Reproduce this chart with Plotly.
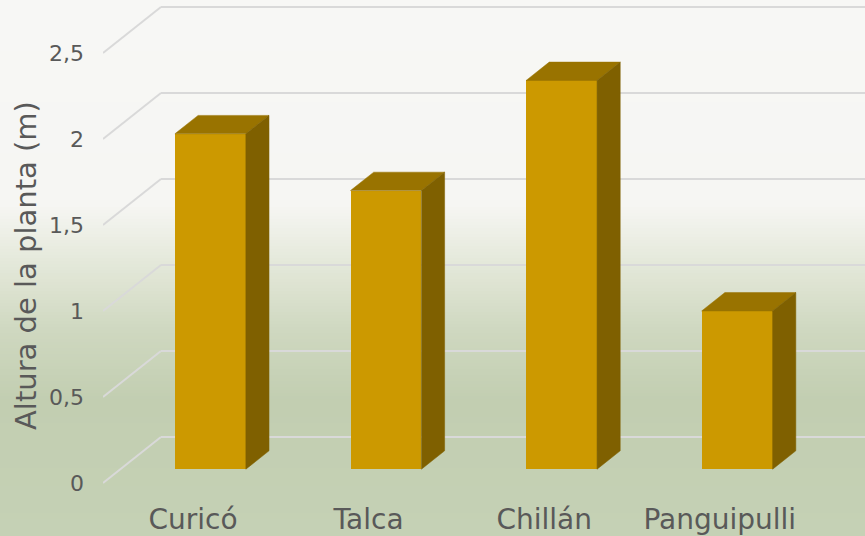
import plotly.graph_objects as go

# ---- data ----
categories = ["Curicó", "Talca", "Chillán", "Panguipulli"]
heights = [1.95, 1.62, 2.26, 0.92]
y_ticks = [0, 0.5, 1, 1.5, 2, 2.5]
y_tick_labels = ["0", "0,5", "1", "1,5", "2", "2,5"]
y_title = "Altura de la planta (m)"

# ---- styling / geometry ----
W, H = 865, 536
ML, MR, MT, MB = 103, 0, 0, 36
FONT = "DejaVu Sans"
TXT = "#595959"
FRONT = "#CC9900"
TOP = "#997300"
SIDE = "#7F6000"
GRID = "#D9D9D9"

xr = [-0.5125, 3.827]
yr = [-0.0988, 2.8081]
DDX = 0.330   # full depth shift in x (category units)
DDY = 0.2674  # full depth shift in y (value units)
D0, D1 = 0.3, 0.7   # bar depth span
HW = 0.202          # half bar width

fig = go.Figure()

# front faces as bars
xs = list(range(len(categories)))
fig.add_trace(go.Bar(
    x=[i + D0 * DDX for i in xs], y=heights, base=D0 * DDY,
    width=2 * HW, marker=dict(color=FRONT, line=dict(width=0)),
    showlegend=False, hoverinfo="skip"))

# top and side faces
for i, v in zip(xs, heights):
    xl = i - HW + D0 * DDX
    xrr = i + HW + D0 * DDX
    yb = D0 * DDY
    yt = v + D0 * DDY
    dx = (D1 - D0) * DDX
    dy = (D1 - D0) * DDY
    fig.add_trace(go.Scatter(
        x=[xl, xrr, xrr + dx, xl + dx, xl],
        y=[yt, yt, yt + dy, yt + dy, yt],
        fill="toself", fillcolor=TOP, mode="lines",
        line=dict(color=TOP, width=0.5),
        hoverinfo="skip", showlegend=False))
    fig.add_trace(go.Scatter(
        x=[xrr, xrr + dx, xrr + dx, xrr, xrr],
        y=[yb, yb + dy, yt + dy, yt, yb],
        fill="toself", fillcolor=SIDE, mode="lines",
        line=dict(color=SIDE, width=0.5),
        hoverinfo="skip", showlegend=False))

# background gradient stripes (pixel rows -> paper coords)
stops = [(0, (247, 247, 245)), (205, (246, 246, 243)), (260, (229, 233, 219)),
         (330, (207, 216, 192)), (400, (194, 206, 177)), (536, (197, 209, 181))]

def col_at(py):
    for (a, ca), (b, cb) in zip(stops[:-1], stops[1:]):
        if a <= py <= b:
            t = (py - a) / (b - a) if b > a else 0
            return tuple(round(ca[k] + (cb[k] - ca[k]) * t) for k in range(3))
    return stops[-1][1]

PW = W - ML - MR
PH = H - MT - MB
shapes = []
step = 3
for py in range(0, H, step):
    c = col_at(py + step / 2)
    y0 = (H - MB - (py + step + 0.5)) / PH
    y1 = (H - MB - py) / PH
    shapes.append(dict(type="rect", xref="paper", yref="paper",
                       x0=-ML / PW - 0.01, x1=1.01, y0=y0, y1=y1,
                       fillcolor="rgb(%d,%d,%d)" % c, line=dict(width=0),
                       layer="below"))

# gridlines: diagonal on side wall + horizontal on back wall (below bars)
for v in y_ticks:
    pts = [(xr[0], v), (xr[0] + DDX, v + DDY), (xr[1] + 1, v + DDY)]
    for (xa, ya), (xb, yb2) in zip(pts[:-1], pts[1:]):
        shapes.append(dict(type="line", xref="x", yref="y",
                           x0=xa, y0=ya, x1=xb, y1=yb2,
                           line=dict(color=GRID, width=2), layer="below"))

fig.update_layout(
    width=W, height=H,
    margin=dict(l=ML, r=MR, t=MT, b=MB),
    paper_bgcolor="rgb(247,247,245)", plot_bgcolor="rgba(0,0,0,0)",
    shapes=shapes, bargap=0,
    font=dict(family=FONT, color=TXT),
    xaxis=dict(range=xr, tickvals=xs, ticktext=categories, showgrid=False,
               zeroline=False, showline=False, ticks="",
               tickfont=dict(size=28, color=TXT), ticklabelstandoff=0),
    yaxis=dict(range=yr, tickvals=y_ticks, ticktext=y_tick_labels,
               showgrid=False, zeroline=False, showline=False, ticks="",
               tickfont=dict(size=22, color=TXT), ticklabelstandoff=18),
    annotations=[dict(text=y_title, textangle=-90, xref="paper", yref="paper",
                      x=0, xshift=-77, y=(H - MB - 266) / PH,
                      xanchor="center", yanchor="middle", showarrow=False,
                      font=dict(size=29, color=TXT, family=FONT))],
)

fig.write_html("out.html", config={"displayModeBar": False},
               post_script="document.body.style.margin='0';document.body.style.overflow='hidden';")
